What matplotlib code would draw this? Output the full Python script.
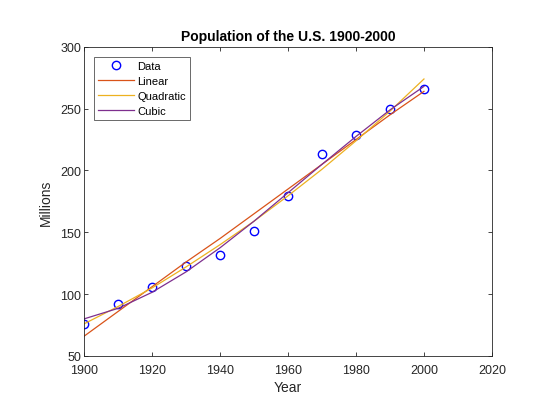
import matplotlib
matplotlib.use("Agg")
import matplotlib.pyplot as plt

plt.rcParams['font.family'] = ['Liberation Sans', 'DejaVu Sans']

years = [1900, 1910, 1920, 1930, 1940, 1950, 1960, 1970, 1980, 1990, 2000]
population = [76, 92, 106, 123, 132, 151, 179, 213, 229, 250, 266]

# fitted curves, read at each census year
linear_fit = [66, 86, 106, 126, 145, 165, 185, 205, 225, 245, 264]
quadratic_fit = [76, 90, 105, 122, 140, 159, 179.5, 201, 224, 248, 274]
cubic_fit = [80, 88.5, 101.5, 118, 137.5, 159, 182, 205, 227.5, 249, 268]

fit_labels = ["Linear", "Quadratic", "Cubic"]
fit_colors = ["#D95319", "#EDB120", "#7E2F8E"]

fig = plt.figure(figsize=(5.46, 4.02), dpi=100)
ax = fig.add_axes([0.154, 0.112, 0.747, 0.769])

ax.plot(years, population, "o", mfc="none", mec="blue", ms=6, mew=1.0, label="Data")
for fit, lab, col in zip([linear_fit, quadratic_fit, cubic_fit], fit_labels, fit_colors):
    ax.plot(years, fit, color=col, lw=0.9, label=lab)

ax.set_xlim(1900, 2020)
ax.set_ylim(50, 300)
ax.set_xticks(range(1900, 2021, 20))
ax.set_yticks(range(50, 301, 50))

axcol = "#262626"
for s in ax.spines.values():
    s.set_color(axcol)
    s.set_linewidth(0.6)
ax.tick_params(direction="in", top=True, right=True, length=3, width=0.6,
               colors=axcol, labelsize=9, pad=2)
ax.tick_params(axis="x", pad=6)

ax.set_title("Population of the U.S. 1900-2000", fontsize=10, fontweight="bold", pad=5)
ax.set_xlabel("Year", fontsize=10, color=axcol, labelpad=3)
ax.set_ylabel("Millions", fontsize=10, color=axcol, labelpad=5)

leg = ax.legend(loc="upper left", bbox_to_anchor=(0.025, 0.968), fontsize=8,
                frameon=True, fancybox=False, edgecolor=axcol, handlelength=3.2,
                handletextpad=0.3, borderpad=0.35, labelspacing=0.45, borderaxespad=0)
leg.get_frame().set_linewidth(0.6)

fig.savefig("out.png", dpi=100)
